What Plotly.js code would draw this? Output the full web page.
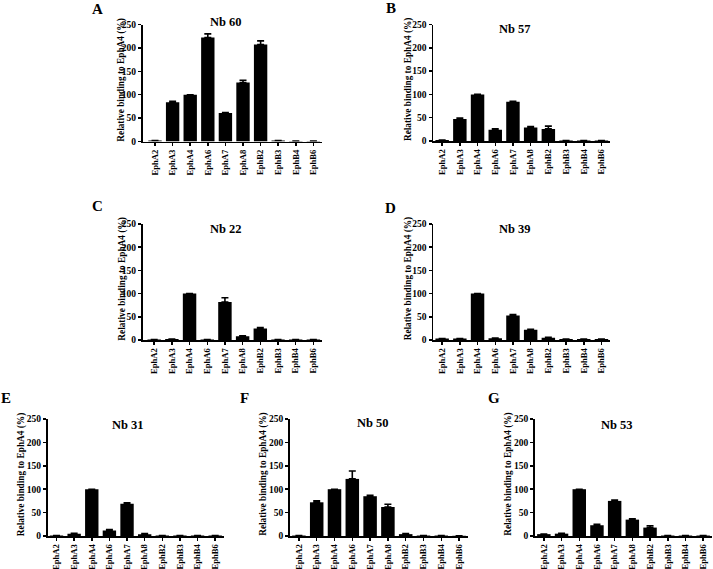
<!DOCTYPE html>
<html>
<head>
<meta charset="utf-8">
<script src="https://cdn.plot.ly/plotly-3.0.1.min.js"></script>
<style>html,body{margin:0;padding:0;background:#fff;}#chart{width:713px;height:569px;}</style>
</head>
<body>
<div id="chart"></div>
<script>
// ---- data ----
const receptors = ["EphA2","EphA3","EphA4","EphA6","EphA7","EphA8","EphB2","EphB3","EphB4","EphB6"];
const yTicks = [0, 50, 100, 150, 200, 250];

const nb60 = [2, 84, 100, 222, 61, 126, 207, 2, 1, 1];
const nb60Err = [0, 2, 0, 8, 1, 5, 8, 0, 0, 0];
const nb57 = [2, 47, 100, 24, 84, 29, 26, 1, 1, 1];
const nb57Err = [0, 2, 0, 2, 1, 2, 6, 0, 0, 0];
const nb22 = [1, 2, 100, 1, 82, 8, 25, 1, 1, 1];
const nb22Err = [0, 0, 0, 0, 9, 1, 2, 0, 0, 0];
const nb39 = [3, 3, 100, 4, 53, 22, 5, 2, 2, 2];
const nb39Err = [0, 0, 0, 0, 2, 1, 1, 0, 0, 0];
const nb31 = [1, 5, 100, 12, 69, 4, 1, 1, 1, 1];
const nb31Err = [0, 1, 0, 2, 2, 1, 0, 0, 0, 0];
const nb50 = [1, 72, 100, 122, 85, 62, 4, 1, 1, 0.5];
const nb50Err = [0, 3, 0, 17, 2, 6, 1, 0, 0, 0];
const nb53 = [4, 5, 100, 23, 75, 35, 18, 1, 1, 1];
const nb53Err = [0, 1, 0, 2, 2, 2, 4, 0, 0, 0];

const panelNames = ["Nb 60","Nb 57","Nb 22","Nb 39","Nb 31","Nb 50","Nb 53"];
const panelLetters = ["A","B","C","D","E","F","G"];
const values = [nb60, nb57, nb22, nb39, nb31, nb50, nb53];
const errors = [nb60Err, nb57Err, nb22Err, nb39Err, nb31Err, nb50Err, nb53Err];
const yTitle = "Relative binding to EphA4 (%)";

// ---- layout (pixels) ----
const W = 713, H = 569;
const boxes = [
  {x0:142.7, x1:322.2, top:24.5, bot:141.5, xr:[-0.7,9.5], tx:226, ty:22, lx:97, ly:9, yt:121.7},
  {x0:433.3, x1:610.3, top:24.5, bot:141.0, xr:[-0.5,9.5], tx:515, ty:29, lx:391, ly:8, yt:408.3},
  {x0:142.7, x1:322.2, top:224, bot:340, xr:[-0.65,9.5], tx:226, ty:229, lx:97, ly:206, yt:121.7},
  {x0:433.3, x1:610.3, top:224, bot:340, xr:[-0.5,9.5], tx:515, ty:229, lx:391, ly:208, yt:408.3},
  {x0:47.7, x1:224, top:419, bot:536, xr:[-0.5,9.5], tx:128, ty:425, lx:6, ly:398, yt:21.7},
  {x0:290, x1:468, top:419, bot:536, xr:[-0.5,9.5], tx:373, ty:423, lx:244, ly:398, yt:263.3},
  {x0:535, x1:712, top:419, bot:536, xr:[-0.5,9.5], tx:617, ty:425, lx:494, ly:398, yt:508.3}
];

const font = {family: "Liberation Serif, Times New Roman, serif", color: "#000"};
const traces = [];
const layout = {
  width: W, height: H,
  margin: {l:0, r:0, t:0, b:0},
  paper_bgcolor: "#fff", plot_bgcolor: "rgba(0,0,0,0)",
  showlegend: false,
  bargap: 0.24,
  annotations: []
};

boxes.forEach((b, i) => {
  const n = i === 0 ? "" : String(i + 1);
  traces.push({
    type: "bar",
    x: receptors, y: values[i],
    xaxis: "x" + n, yaxis: "y" + n,
    marker: {color: "#000", line: {width: 0}},
    error_y: {type: "data", symmetric: false, array: errors[i],
              arrayminus: errors[i].map(() => 0), color: "#000", thickness: 1.6, width: 3.5}
  });
  layout["xaxis" + n] = {
    domain: [b.x0 / W, b.x1 / W], anchor: "y" + n,
    range: b.xr, type: "category",
    showline: true, linecolor: "#000", linewidth: 1.8,
    ticks: "outside", ticklen: 3, tickwidth: 1.5, tickcolor: "#000",
    tickangle: -90, showgrid: false, zeroline: false, fixedrange: true,
    tickfont: Object.assign({size: 8.6, weight: "bold"}, font)
  };
  layout["yaxis" + n] = {
    domain: [1 - b.bot / H, 1 - b.top / H], anchor: "x" + n,
    range: [0, 250], tickvals: yTicks, ticktext: yTicks.map(String),
    showline: true, linecolor: "#000", linewidth: 1.8,
    ticks: "outside", ticklen: 3, tickwidth: 1.5, tickcolor: "#000",
    showgrid: false, zeroline: false, fixedrange: true,
    tickfont: Object.assign({size: 9.5, weight: "bold"}, font)
  };
  layout.annotations.push({
    text: panelNames[i], x: b.tx / W, y: 1 - b.ty / H, xref: "paper", yref: "paper",
    xanchor: "center", yanchor: "middle", showarrow: false,
    font: Object.assign({size: 12.5, weight: "bold"}, font)
  });
  layout.annotations.push({
    text: panelLetters[i], x: b.lx / W, y: 1 - b.ly / H, xref: "paper", yref: "paper",
    xanchor: "center", yanchor: "middle", showarrow: false,
    font: Object.assign({size: 15, weight: "bold"}, font)
  });
  layout.annotations.push({
    text: yTitle, x: b.yt / W, y: 1 - ((b.top + b.bot) / 2 - 3) / H, xref: "paper", yref: "paper",
    xanchor: "center", yanchor: "middle", showarrow: false, textangle: -90,
    font: Object.assign({size: 9.3, weight: "bold"}, font)
  });
});

Plotly.newPlot("chart", traces, layout, {staticPlot: true, displayModeBar: false});
</script>
</body>
</html>
